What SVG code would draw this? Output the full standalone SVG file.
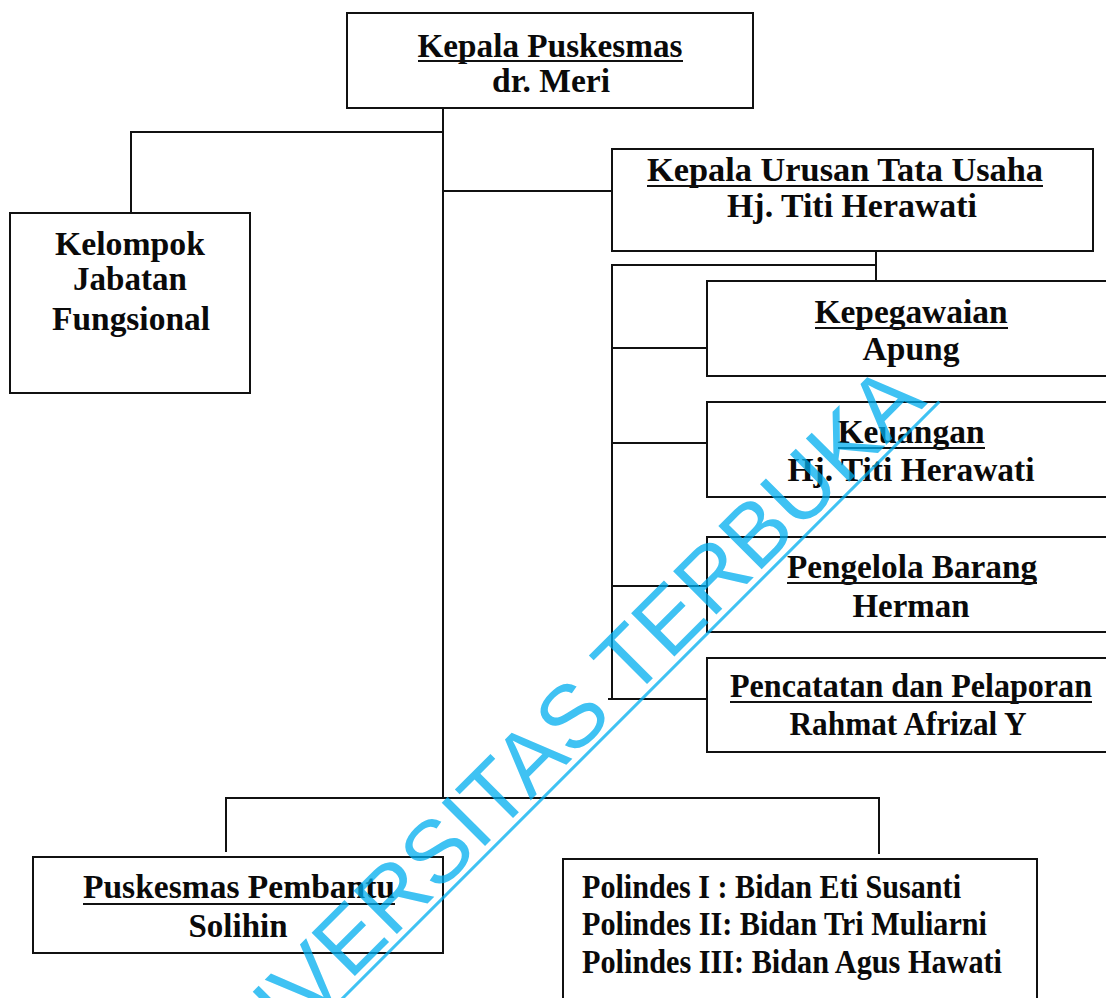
<svg xmlns="http://www.w3.org/2000/svg" width="1106" height="998" viewBox="0 0 1106 998">
<style>
.box{fill:#fff;stroke:#111;stroke-width:2}
.t{font-family:"Liberation Serif","Times New Roman",serif;font-weight:bold;font-size:33px;fill:#0a0a0a}
.c{text-anchor:middle}
.ul{stroke:#111;stroke-width:2}
.con{fill:none;stroke:#111;stroke-width:2}
.wm{font-family:"Liberation Sans",Arial,sans-serif;font-size:89px;fill:#00aeef;text-anchor:end}
</style>
<rect width="1106" height="998" fill="#fff"/>
<g id="connectors">
<path class="con" d="M443,109 V798"/>
<path class="con" d="M443,132 H131 V212"/>
<path class="con" d="M443,191 H612"/>
<path class="con" d="M226,852 V798 H879 V854"/>
<path class="con" d="M876,252 V281"/>
<path class="con" d="M876,265 H612 V699"/>
<path class="con" d="M612,348 H707"/>
<path class="con" d="M612,443 H707"/>
<path class="con" d="M612,586 H707"/>
<path class="con" d="M608,699 H707"/>
</g>
<g id="kepala-puskesmas">
<rect class="box" x="347" y="13" width="406" height="95"/>
<text class="t c" x="550" y="57" textLength="265" lengthAdjust="spacingAndGlyphs">Kepala Puskesmas</text>
<line class="ul" x1="418" y1="61" x2="683" y2="61"/>
<text class="t c" x="551" y="92" textLength="118" lengthAdjust="spacingAndGlyphs">dr. Meri</text>
</g>
<g id="kelompok-jabatan">
<rect class="box" x="10" y="213" width="240" height="180"/>
<text class="t c" x="130" y="255" textLength="150" lengthAdjust="spacingAndGlyphs">Kelompok</text>
<text class="t c" x="130" y="290" textLength="114" lengthAdjust="spacingAndGlyphs">Jabatan</text>
<text class="t c" x="131" y="330" textLength="158" lengthAdjust="spacingAndGlyphs">Fungsional</text>
</g>
<g id="tata-usaha">
<rect class="box" x="612" y="149" width="481" height="102"/>
<text class="t c" x="845" y="181" textLength="396" lengthAdjust="spacingAndGlyphs">Kepala Urusan Tata Usaha</text>
<line class="ul" x1="647" y1="186" x2="1043" y2="186"/>
<text class="t c" x="852" y="217" textLength="250" lengthAdjust="spacingAndGlyphs">Hj. Titi Herawati</text>
</g>
<g id="kepegawaian">
<rect class="box" x="707" y="281" width="410" height="95"/>
<text class="t c" x="911" y="323" textLength="193" lengthAdjust="spacingAndGlyphs">Kepegawaian</text>
<line class="ul" x1="815" y1="328" x2="1008" y2="328"/>
<text class="t c" x="911" y="360" textLength="97" lengthAdjust="spacingAndGlyphs">Apung</text>
</g>
<g id="keuangan">
<rect class="box" x="707" y="402" width="410" height="95"/>
<text class="t c" x="911" y="443" textLength="147" lengthAdjust="spacingAndGlyphs">Keuangan</text>
<line class="ul" x1="838" y1="448" x2="985" y2="448"/>
<text class="t c" x="911" y="481" textLength="247" lengthAdjust="spacingAndGlyphs">Hj. Titi Herawati</text>
</g>
<g id="pengelola-barang">
<rect class="box" x="707" y="537" width="410" height="95"/>
<text class="t c" x="912" y="578" textLength="250" lengthAdjust="spacingAndGlyphs">Pengelola Barang</text>
<line class="ul" x1="787" y1="583" x2="1037" y2="583"/>
<text class="t c" x="911" y="617" textLength="117" lengthAdjust="spacingAndGlyphs">Herman</text>
</g>
<g id="pencatatan">
<rect class="box" x="707" y="658" width="410" height="94"/>
<text class="t c" x="911" y="697" textLength="362" lengthAdjust="spacingAndGlyphs">Pencatatan dan Pelaporan</text>
<line class="ul" x1="730" y1="702" x2="1092" y2="702"/>
<text class="t c" x="908" y="735" textLength="237" lengthAdjust="spacingAndGlyphs">Rahmat Afrizal Y</text>
</g>
<g id="puskesmas-pembantu">
<rect class="box" x="33" y="857" width="410" height="96"/>
<text class="t c" x="239" y="898" textLength="312" lengthAdjust="spacingAndGlyphs">Puskesmas Pembantu</text>
<line class="ul" x1="83" y1="904" x2="395" y2="904"/>
<text class="t c" x="238" y="937" textLength="99" lengthAdjust="spacingAndGlyphs">Solihin</text>
</g>
<g id="polindes">
<rect class="box" x="563" y="859" width="474" height="160"/>
<text class="t" x="582" y="898" textLength="379" lengthAdjust="spacingAndGlyphs">Polindes I : Bidan Eti Susanti</text>
<text class="t" x="582" y="935" textLength="405" lengthAdjust="spacingAndGlyphs">Polindes II: Bidan Tri Muliarni</text>
<text class="t" x="582" y="973" textLength="420" lengthAdjust="spacingAndGlyphs">Polindes III: Bidan Agus Hawati</text>
</g>
<g id="watermark" transform="translate(928,403) rotate(-45)" opacity="0.75">
<text class="wm" x="0" y="0">UNIVERSITAS TERBUKA</text>
<line x1="-1200" y1="7" x2="9" y2="7" stroke="#00aeef" stroke-width="3"/>
</g>
</svg>
